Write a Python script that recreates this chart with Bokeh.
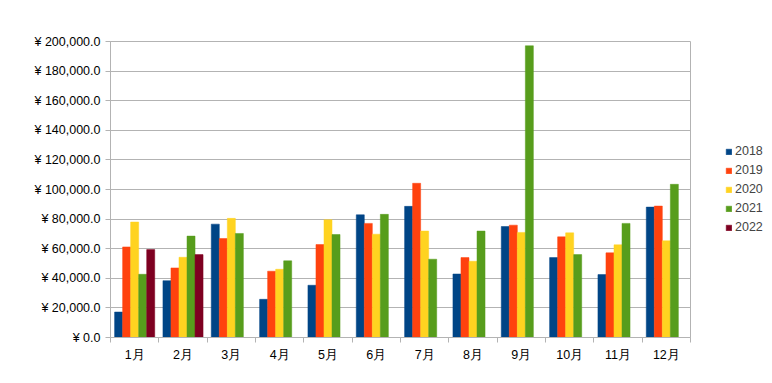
from bokeh.plotting import figure
from bokeh.models import ColumnDataSource, FixedTicker, Legend, LegendItem
from bokeh.transform import dodge
from bokeh.embed import file_html
from bokeh.resources import INLINE

months = ["1月", "2月", "3月", "4月", "5月", "6月", "7月", "8月", "9月", "10月", "11月", "12月"]
s2018 = [17200, 38400, 76600, 25800, 35300, 82900, 88600, 42900, 75000, 54000, 42500, 88100]
s2019 = [61200, 47000, 66900, 44800, 62800, 77100, 104200, 54000, 75900, 68000, 57200, 88800]
s2020 = [78000, 54200, 80500, 46100, 79600, 69800, 71900, 51500, 71000, 70700, 62600, 65300]
s2021 = [42700, 68500, 70300, 51800, 69600, 83200, 52900, 71900, 197100, 56000, 77100, 103500]
s2022 = [59400, 56000]
years = ["2018", "2019", "2020", "2021", "2022"]
colors = ["#004586", "#ff420e", "#ffd320", "#579d1c", "#7e0021"]
y_ticks = [0, 20000, 40000, 60000, 80000, 100000, 120000, 140000, 160000, 180000, 200000]
y_tick_labels = ["¥ 0.0", "¥ 20,000.0", "¥ 40,000.0", "¥ 60,000.0", "¥ 80,000.0", "¥ 100,000.0",
                 "¥ 120,000.0", "¥ 140,000.0", "¥ 160,000.0", "¥ 180,000.0", "¥ 200,000.0"]

FONT = "Liberation Sans"
FS = "12.5px"
GRID = "#b3b3b3"

xc = [i + 0.5 for i in range(len(months))]
src = ColumnDataSource(dict(x=xc, s2018=s2018, s2019=s2019, s2020=s2020, s2021=s2021))
src22 = ColumnDataSource(dict(x=xc[:len(s2022)], s2022=s2022))

p = figure(width=772, height=383, frame_width=580, frame_height=296,
           output_backend="svg", toolbar_location=None,
           x_range=(0, 12), y_range=(0, 200000),
           min_border_left=110, min_border_right=0, min_border_top=41, min_border_bottom=46)
p.background_fill_color = "white"
p.border_fill_color = "white"
p.outline_line_color = GRID

w = 0.166
items = []
cols = ["s2018", "s2019", "s2020", "s2021"]
for k, c in enumerate(cols):
    r = p.vbar(x=dodge("x", (k - 2) * w, range=p.x_range), top=c, width=w, bottom=0,
               source=src, fill_color=colors[k], line_color=colors[k], line_width=0.5)
    items.append(LegendItem(label=years[k], renderers=[r]))
r = p.vbar(x=dodge("x", 2 * w, range=p.x_range), top="s2022", width=w, bottom=0,
           source=src22, fill_color=colors[4], line_color=colors[4], line_width=0.5)
items.append(LegendItem(label=years[4], renderers=[r]))

# axes
p.xaxis.ticker = FixedTicker(ticks=xc, minor_ticks=list(range(13)))
p.xaxis.major_label_overrides = {v: m for v, m in zip(xc, months)}
p.xaxis.major_tick_out = 0
p.xaxis.major_tick_in = 0
p.xaxis.minor_tick_out = 5
p.xaxis.minor_tick_in = 0
p.xaxis.minor_tick_line_color = GRID
p.xaxis.axis_line_color = GRID
p.xaxis.major_label_standoff = 5
p.xaxis.major_label_text_font = FONT
p.xaxis.major_label_text_font_size = FS
p.xaxis.major_label_text_color = "black"

p.yaxis.ticker = FixedTicker(ticks=y_ticks, minor_ticks=[])
p.yaxis.major_label_overrides = {v: s for v, s in zip(y_ticks, y_tick_labels)}
p.yaxis.major_tick_out = 5
p.yaxis.major_tick_in = 0
p.yaxis.major_tick_line_color = GRID
p.yaxis.axis_line_color = GRID
p.yaxis.major_label_standoff = 5
p.yaxis.major_label_text_font = FONT
p.yaxis.major_label_text_font_size = FS
p.yaxis.major_label_text_color = "black"

p.xgrid.grid_line_color = None
p.ygrid.ticker = FixedTicker(ticks=y_ticks)
p.ygrid.grid_line_color = GRID

legend = Legend(items=items, location="center_left", orientation="vertical",
                glyph_width=7, glyph_height=7, label_height=12, spacing=5,
                label_standoff=3, padding=5, margin=35,
                label_text_font=FONT, label_text_font_size=FS,
                border_line_color=None, background_fill_alpha=0)
p.add_layout(legend, "right")

open("out.html", "w").write(file_html(p, INLINE))
